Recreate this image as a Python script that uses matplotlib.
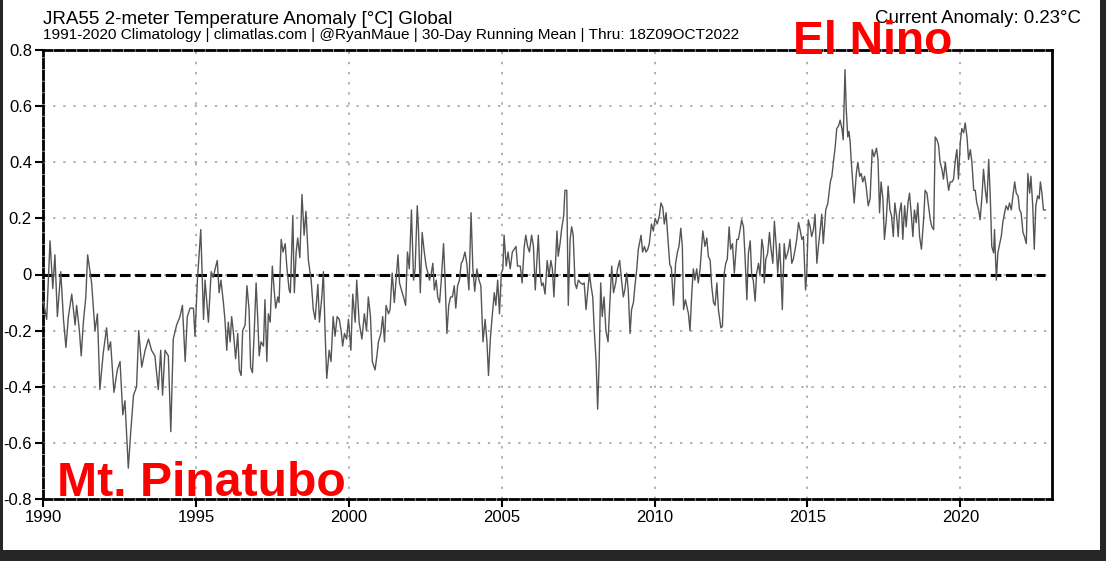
"""JRA55 global 2-m temperature anomaly, 30-day running mean (1990-2022)."""

import matplotlib
matplotlib.use("Agg")
import matplotlib.pyplot as plt
from matplotlib.patches import Rectangle


# Values (decimal year, anomaly in degC)
YEARS = [
    1990.01, 1990.12, 1990.23, 1990.32, 1990.39, 1990.47, 1990.58, 1990.67, 1990.75, 1990.83,
    1990.94, 1991.05, 1991.10, 1991.19, 1991.25, 1991.32, 1991.40, 1991.46, 1991.59, 1991.70,
    1991.78, 1991.86, 1991.97, 1992.08, 1992.14, 1992.21, 1992.32, 1992.43, 1992.52, 1992.61,
    1992.68, 1992.79, 1992.87, 1992.96, 1993.06, 1993.13, 1993.23, 1993.34, 1993.45, 1993.55,
    1993.66, 1993.77, 1993.85, 1993.91, 1993.99, 1994.10, 1994.18, 1994.26, 1994.37, 1994.48,
    1994.56, 1994.65, 1994.72, 1994.81, 1994.92, 1994.97, 1995.05, 1995.16, 1995.25, 1995.30,
    1995.41, 1995.50, 1995.57, 1995.63, 1995.70, 1995.76, 1995.82, 1995.90, 1995.95, 1996.01,
    1996.06, 1996.12, 1996.17, 1996.23, 1996.30, 1996.37, 1996.42, 1996.48, 1996.53, 1996.61,
    1996.67, 1996.74, 1996.79, 1996.85, 1996.91, 1996.97, 1997.02, 1997.07, 1997.13, 1997.21,
    1997.26, 1997.32, 1997.37, 1997.43, 1997.50, 1997.56, 1997.61, 1997.68, 1997.72, 1997.79,
    1997.85, 1997.92, 1997.98, 1998.05, 1998.09, 1998.17, 1998.22, 1998.28, 1998.33, 1998.40,
    1998.47, 1998.54, 1998.60, 1998.68, 1998.77, 1998.84, 1998.90, 1998.99, 1999.04, 1999.12,
    1999.17, 1999.23, 1999.28, 1999.36, 1999.42, 1999.49, 1999.55, 1999.62, 1999.69, 1999.75,
    1999.80, 1999.86, 1999.93, 1999.99, 2000.07, 2000.13, 2000.21, 2000.26, 2000.34, 2000.43,
    2000.51, 2000.58, 2000.64, 2000.71, 2000.77, 2000.86, 2000.92, 2000.97, 2001.05, 2001.11,
    2001.17, 2001.22, 2001.30, 2001.35, 2001.42, 2001.49, 2001.54, 2001.61, 2001.66, 2001.71,
    2001.79, 2001.86, 2001.92, 2001.98, 2002.05, 2002.12, 2002.17, 2002.24, 2002.28, 2002.34,
    2002.40, 2002.47, 2002.53, 2002.59, 2002.64, 2002.70, 2002.75, 2002.80, 2002.86, 2002.91,
    2002.97, 2003.02, 2003.10, 2003.15, 2003.21, 2003.27, 2003.33, 2003.39, 2003.45, 2003.50,
    2003.56, 2003.62, 2003.68, 2003.73, 2003.80, 2003.86, 2003.93, 2004.00, 2004.06, 2004.12,
    2004.19, 2004.26, 2004.32, 2004.39, 2004.46, 2004.52, 2004.57, 2004.63, 2004.69, 2004.76,
    2004.81, 2004.87, 2004.93, 2004.99, 2005.04, 2005.08, 2005.15, 2005.21, 2005.28, 2005.35,
    2005.41, 2005.47, 2005.52, 2005.61, 2005.67, 2005.74, 2005.79, 2005.85, 2005.91, 2005.98,
    2006.04, 2006.10, 2006.20, 2006.25, 2006.31, 2006.36, 2006.42, 2006.49, 2006.55, 2006.61,
    2006.66, 2006.71, 2006.77, 2006.81, 2006.85, 2006.91, 2006.96, 2007.03, 2007.07, 2007.13,
    2007.18, 2007.24, 2007.29, 2007.34, 2007.40, 2007.45, 2007.51, 2007.58, 2007.65, 2007.70,
    2007.76, 2007.81, 2007.87, 2007.92, 2007.98, 2008.03, 2008.09, 2008.14, 2008.19, 2008.24,
    2008.29, 2008.35, 2008.41, 2008.48, 2008.54, 2008.60, 2008.66, 2008.73, 2008.79, 2008.86,
    2008.93, 2008.98, 2009.03, 2009.09, 2009.14, 2009.20, 2009.25, 2009.31, 2009.36, 2009.42,
    2009.47, 2009.56, 2009.61, 2009.67, 2009.72, 2009.78, 2009.83, 2009.90, 2009.96, 2010.02,
    2010.09, 2010.16, 2010.21, 2010.27, 2010.32, 2010.38, 2010.43, 2010.50, 2010.55, 2010.62,
    2010.69, 2010.75, 2010.80, 2010.86, 2010.91, 2010.95, 2011.01, 2011.05, 2011.11, 2011.16,
    2011.22, 2011.27, 2011.32, 2011.38, 2011.43, 2011.49, 2011.58, 2011.65, 2011.71, 2011.76,
    2011.82, 2011.87, 2011.93, 2011.98, 2012.04, 2012.09, 2012.17, 2012.22, 2012.28, 2012.33,
    2012.38, 2012.44, 2012.49, 2012.55, 2012.61, 2012.69, 2012.74, 2012.80, 2012.85, 2012.91,
    2012.96, 2013.02, 2013.07, 2013.13, 2013.18, 2013.23, 2013.29, 2013.34, 2013.40, 2013.45,
    2013.51, 2013.56, 2013.59, 2013.64, 2013.70, 2013.76, 2013.80, 2013.87, 2013.92, 2013.98,
    2014.03, 2014.09, 2014.13, 2014.18, 2014.24, 2014.29, 2014.35, 2014.40, 2014.43, 2014.49,
    2014.54, 2014.60, 2014.65, 2014.71, 2014.76, 2014.82, 2014.87, 2014.94, 2014.98, 2015.03,
    2015.09, 2015.14, 2015.20, 2015.25, 2015.31, 2015.36, 2015.42, 2015.47, 2015.52, 2015.60,
    2015.67, 2015.75, 2015.80, 2015.85, 2015.91, 2015.96, 2016.02, 2016.07, 2016.13, 2016.17,
    2016.23, 2016.27, 2016.32, 2016.36, 2016.40, 2016.43, 2016.48, 2016.53, 2016.60, 2016.65,
    2016.71, 2016.76, 2016.81, 2016.87, 2016.92, 2016.99, 2017.05, 2017.12, 2017.18, 2017.26,
    2017.31, 2017.36, 2017.41, 2017.47, 2017.52, 2017.58, 2017.64, 2017.70, 2017.75, 2017.81,
    2017.86, 2017.93, 2017.97, 2018.01, 2018.07, 2018.12, 2018.18, 2018.23, 2018.29, 2018.34,
    2018.40, 2018.45, 2018.50, 2018.56, 2018.61, 2018.67, 2018.73, 2018.80, 2018.85, 2018.91,
    2018.96, 2019.02, 2019.07, 2019.13, 2019.18, 2019.24, 2019.29, 2019.34, 2019.40, 2019.45,
    2019.51, 2019.56, 2019.62, 2019.67, 2019.73, 2019.78, 2019.84, 2019.89, 2019.94, 2020.00,
    2020.05, 2020.11, 2020.16, 2020.22, 2020.27, 2020.33, 2020.38, 2020.44, 2020.49, 2020.54,
    2020.60, 2020.65, 2020.71, 2020.76, 2020.82, 2020.87, 2020.93, 2020.98, 2021.03, 2021.09,
    2021.12, 2021.18, 2021.23, 2021.29, 2021.34, 2021.39, 2021.45, 2021.50, 2021.56, 2021.61,
    2021.67, 2021.72, 2021.78, 2021.83, 2021.89, 2021.94, 2021.99, 2022.05, 2022.10, 2022.16,
    2022.21, 2022.27, 2022.31, 2022.37, 2022.42, 2022.47, 2022.53, 2022.58, 2022.62, 2022.67,
    2022.72, 2022.78,
]

ANOMALY = [
    -0.095, -0.16, 0.12, -0.05, 0.07, -0.15, 0.01, -0.16, -0.26, -0.15,
    -0.07, -0.18, -0.11, -0.20, -0.29, -0.17, -0.08, 0.07, -0.03, -0.20,
    -0.14, -0.41, -0.28, -0.19, -0.27, -0.24, -0.42, -0.34, -0.31, -0.50,
    -0.45, -0.69, -0.56, -0.43, -0.40, -0.20, -0.33, -0.27, -0.23, -0.27,
    -0.29, -0.41, -0.27, -0.43, -0.27, -0.29, -0.56, -0.23, -0.18, -0.15,
    -0.11, -0.31, -0.15, -0.12, -0.12, -0.22, -0.02, 0.16, -0.16, -0.02,
    -0.17, 0.01, -0.01, 0.02, 0.05, -0.065, -0.02, -0.10, -0.16, -0.27,
    -0.17, -0.24, -0.15, -0.21, -0.30, -0.21, -0.34, -0.36, -0.20, -0.18,
    -0.04, -0.125, -0.33, -0.35, -0.20, -0.03, -0.15, -0.29, -0.24, -0.255,
    -0.09, -0.31, -0.14, -0.17, 0.03, -0.055, -0.12, -0.08, -0.10, 0.125,
    0.08, 0.11, 0.02, -0.055, -0.065, 0.21, -0.065, 0.08, 0.13, 0.06,
    0.285, 0.14, 0.225, 0.05, -0.02, -0.125, -0.16, -0.035, -0.17, -0.08,
    0.01, -0.22, -0.37, -0.27, -0.31, -0.15, -0.22, -0.15, -0.16, -0.20,
    -0.255, -0.21, -0.23, -0.16, -0.27, -0.07, -0.17, -0.02, -0.17, -0.23,
    -0.14, -0.20, -0.08, -0.15, -0.31, -0.34, -0.29, -0.24, -0.21, -0.15,
    -0.24, -0.11, -0.14, -0.125, 0.005, -0.10, -0.03, 0.07, -0.03, -0.05,
    -0.08, -0.11, 0.08, 0.02, 0.23, -0.02, 0.02, 0.245, 0.16, -0.065,
    0.15, 0.08, 0.03, 0.005, -0.02, 0.005, 0.04, -0.055, -0.02, -0.08,
    -0.10, -0.03, 0.11, -0.02, -0.21, -0.11, -0.08, -0.08, -0.04, -0.12,
    -0.04, -0.02, 0.04, 0.05, 0.08, 0.04, -0.055, 0.22, 0.02, -0.06,
    0.02, -0.02, -0.04, -0.24, -0.16, -0.24, -0.36, -0.23, -0.15, -0.065,
    -0.11, -0.02, -0.14, 0.005, 0.02, 0.14, 0.03, 0.08, 0.02, 0.08,
    0.09, 0.10, 0.03, 0.03, -0.03, 0.10, 0.14, 0.10, 0.08, 0.14,
    0.10, -0.055, 0.14, 0.005, -0.04, -0.03, -0.07, 0.05, -0.005, 0.05,
    0.02, -0.08, 0.065, 0.155, 0.065, 0.11, 0.16, 0.21, 0.30, 0.30,
    -0.11, 0.125, 0.17, 0.14, -0.03, -0.05, -0.02, -0.03, -0.035, -0.03,
    -0.125, -0.065, 0.005, -0.04, -0.08, -0.20, -0.31, -0.48, -0.31, -0.03,
    -0.15, -0.08, -0.20, -0.24, -0.10, 0.03, -0.065, -0.03, 0.02, 0.05,
    -0.03, -0.08, -0.055, 0.005, -0.055, -0.21, -0.125, -0.10, -0.04, 0.02,
    0.09, 0.14, 0.08, 0.10, 0.08, 0.09, 0.11, 0.18, 0.155, 0.20,
    0.18, 0.21, 0.255, 0.24, 0.18, 0.22, 0.14, 0.035, 0.025, -0.11,
    0.04, 0.08, 0.10, 0.165, 0.10, -0.125, -0.09, -0.11, -0.14, -0.20,
    -0.065, 0.02, -0.02, 0.02, -0.03, 0.02, 0.155, 0.10, 0.13, 0.065,
    0.05, -0.04, -0.10, -0.11, -0.03, -0.125, -0.19, -0.185, 0.005, 0.04,
    0.055, 0.17, 0.09, 0.11, 0.005, 0.125, 0.125, 0.16, 0.195, 0.17,
    0.065, -0.09, 0.075, 0.12, -0.005, -0.02, -0.095, 0.005, 0.04, -0.005,
    0.125, 0.09, -0.03, 0.055, 0.075, 0.15, 0.10, 0.04, 0.19, 0.10,
    0.005, 0.11, 0.02, -0.125, 0.11, 0.055, 0.075, 0.10, 0.125, 0.04,
    0.055, 0.09, 0.125, 0.185, 0.16, 0.125, 0.135, -0.055, 0.005, 0.195,
    0.17, 0.135, 0.16, 0.215, 0.04, 0.10, 0.16, 0.215, 0.11, 0.23,
    0.255, 0.33, 0.35, 0.40, 0.455, 0.52, 0.53, 0.55, 0.52, 0.48,
    0.73, 0.59, 0.49, 0.51, 0.47, 0.41, 0.33, 0.255, 0.36, 0.40,
    0.35, 0.36, 0.33, 0.35, 0.315, 0.245, 0.27, 0.445, 0.42, 0.45,
    0.41, 0.22, 0.33, 0.27, 0.125, 0.195, 0.315, 0.23, 0.21, 0.135,
    0.255, 0.195, 0.135, 0.22, 0.255, 0.125, 0.245, 0.17, 0.255, 0.29,
    0.21, 0.135, 0.23, 0.185, 0.255, 0.135, 0.09, 0.195, 0.30, 0.29,
    0.245, 0.195, 0.17, 0.16, 0.49, 0.48, 0.46, 0.40, 0.375, 0.34,
    0.40, 0.35, 0.30, 0.33, 0.33, 0.34, 0.41, 0.445, 0.34, 0.47,
    0.52, 0.505, 0.54, 0.49, 0.41, 0.445, 0.40, 0.30, 0.30, 0.255,
    0.23, 0.195, 0.28, 0.375, 0.30, 0.255, 0.41, 0.28, 0.10, 0.077,
    0.16, -0.02, 0.077, 0.11, 0.135, 0.185, 0.22, 0.245, 0.23, 0.255,
    0.23, 0.28, 0.33, 0.29, 0.28, 0.23, 0.22, 0.15, 0.135, 0.11,
    0.36, 0.29, 0.35, 0.245, 0.09, 0.245, 0.28, 0.27, 0.33, 0.29,
    0.23, 0.23,
]

X_TICKS = [1990, 1995, 2000, 2005, 2010, 2015, 2020]
Y_TICKS = [-0.8, -0.6, -0.4, -0.2, 0.0, 0.2, 0.4, 0.6, 0.8]
Y_TICK_LABELS = ["-0.8", "-0.6", "-0.4", "-0.2", "0", "0.2", "0.4", "0.6", "0.8"]

TITLE = "JRA55 2-meter Temperature Anomaly [°C] Global"
SUBTITLE = ("1991-2020 Climatology | climatlas.com | @RyanMaue | "
            "30-Day Running Mean | Thru: 18Z09OCT2022")
CURRENT = "Current Anomaly: 0.23°C"

W, H = 1106, 561

plt.rcParams["font.family"] = ["Liberation Sans", "DejaVu Sans"]

fig = plt.figure(figsize=(W / 100, H / 100), dpi=100, facecolor="#262626")

# white page inside the dark screenshot frame
fig.add_artist(Rectangle((3 / W, 1 - 550 / H), (1100 - 3) / W, 550 / H,
                         transform=fig.transFigure, facecolor="white",
                         edgecolor="none", zorder=0))

ax = fig.add_axes([43 / W, 1 - 499 / H, (1052 - 43) / W, (499 - 50) / H])

ax.hlines(0, YEARS[0], YEARS[-1], colors="black", linestyles=(0, (3.5, 1.5)),
          linewidth=2.2, zorder=2)
ax.plot(YEARS, ANOMALY, color="#555555", linewidth=1.0, zorder=3)

ax.set_xlim(1990, 2023.0)
ax.set_ylim(-0.8, 0.8)
ax.set_xticks(X_TICKS)
ax.set_yticks(Y_TICKS)
ax.set_yticklabels(Y_TICK_LABELS)
ax.grid(True, color="#b0b0b0", linestyle=(0, (1.2, 4)), linewidth=1.4)
ax.set_axisbelow(True)
ax.tick_params(direction="out", length=6, width=1.5, colors="black",
               labelsize=12, pad=2)

for side in ("left", "top", "bottom"):
    ax.spines[side].set_linestyle((0, (3, 1.2)))
    ax.spines[side].set_linewidth(2)
ax.spines["right"].set_linewidth(2)

# header text
fig.text(43 / W, 1 - 24 / H, TITLE, fontsize=13.5, va="baseline")
fig.text(43 / W, 1 - 39 / H, SUBTITLE, fontsize=11.1, va="baseline")
fig.text(1081 / W, 1 - 23 / H, CURRENT, fontsize=13.4, va="baseline", ha="right")

# annotations
fig.text(793 / W, 1 - 54 / H, "El Nino", fontsize=33.3, fontweight="bold",
         color="#ff0000", va="baseline")
fig.text(57 / W, 1 - 496 / H, "Mt. Pinatubo", fontsize=34.7, fontweight="bold",
         color="#ff0000", va="baseline")

fig.savefig("out.png", dpi=100, facecolor=fig.get_facecolor())
